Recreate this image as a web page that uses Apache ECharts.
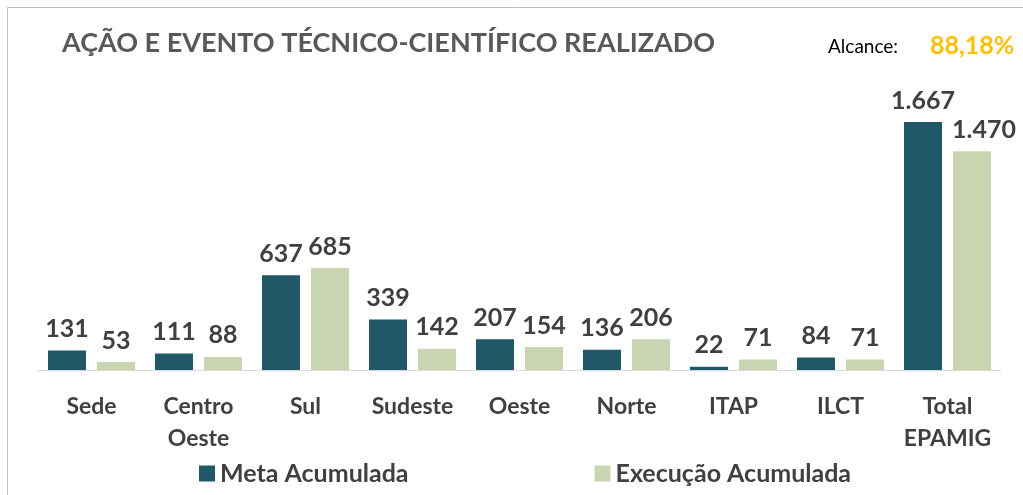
<!DOCTYPE html>
<html><head><meta charset="utf-8">
<script src="https://cdn.jsdelivr.net/npm/echarts@6/dist/echarts.min.js"></script>
<style>html,body{margin:0;padding:0;background:#fff}#c{width:1023px;height:495px}</style>
</head><body><div id="c"></div>
<script>
const categories = ['Sede', 'Centro\nOeste', 'Sul', 'Sudeste', 'Oeste', 'Norte', 'ITAP', 'ILCT', 'Total\nEPAMIG'];
const meta = [131, 111, 637, 339, 207, 136, 22, 84, 1667];
const execucao = [53, 88, 685, 142, 154, 206, 71, 71, 1470];
const seriesNames = ['Meta Acumulada', 'Execução Acumulada'];
const titleText = 'AÇÃO E EVENTO TÉCNICO-CIENTÍFICO REALIZADO';
const alcanceLabel = 'Alcance:';
const alcanceValue = '88,18%';

const fmtNum = v => { const s = String(v); return s.length > 3 ? s.slice(0, s.length - 3) + '.' + s.slice(-3) : s; };
const font = 'Lato, "Open Sans", sans-serif';
const chart = echarts.init(document.getElementById('c'));
const labelStyle = {show: true, position: 'top', distance: 9, color: '#404040', fontWeight: 'bold', fontSize: 25, fontFamily: font, formatter: p => fmtNum(p.value)};
const execData = execucao.map((v, i) => i === execucao.length - 1 ? {value: v, label: {offset: [12, 0]}} : v);
chart.setOption({
  animation: false,
  graphic: [
    {type: 'rect', shape: {x: 7.5, y: 7.5, width: 1030, height: 500}, style: {fill: 'none', stroke: '#bfbfbf', lineWidth: 1}},
    {type: 'text', left: 62, top: 30, style: {text: titleText, fill: '#595959', font: 'bold 27px ' + font}},
    {type: 'text', left: 828, top: 37, style: {text: alcanceLabel, fill: '#000', font: '19px ' + font}},
    {type: 'text', left: 930, top: 33, style: {text: alcanceValue, fill: '#FFC000', font: 'bold 25px ' + font}}
  ],
  legend: {
    data: seriesNames, left: 194, top: 456, itemWidth: 16, itemHeight: 16, itemGap: 186,
    icon: 'rect',
    textStyle: {color: '#404040', fontWeight: 'bold', fontSize: 25, fontFamily: font}
  },
  grid: {left: 38, right: 22, top: 72.4, bottom: 125},
  xAxis: {
    type: 'category', data: categories,
    axisLine: {lineStyle: {color: '#d9d9d9', width: 1}},
    axisTick: {show: false},
    axisLabel: {color: '#404040', fontWeight: 'bold', fontSize: 23, fontFamily: font, margin: 21, lineHeight: 32, interval: 0}
  },
  yAxis: {type: 'value', min: 0, max: 2000, show: false, splitLine: {show: false}},
  series: [
    {name: seriesNames[0], type: 'bar', data: meta, barWidth: 38, barGap: '29%', itemStyle: {color: '#215968'}, label: labelStyle},
    {name: seriesNames[1], type: 'bar', data: execData, barWidth: 38, itemStyle: {color: '#C9D5B1'}, label: labelStyle}
  ]
});
</script></body></html>
